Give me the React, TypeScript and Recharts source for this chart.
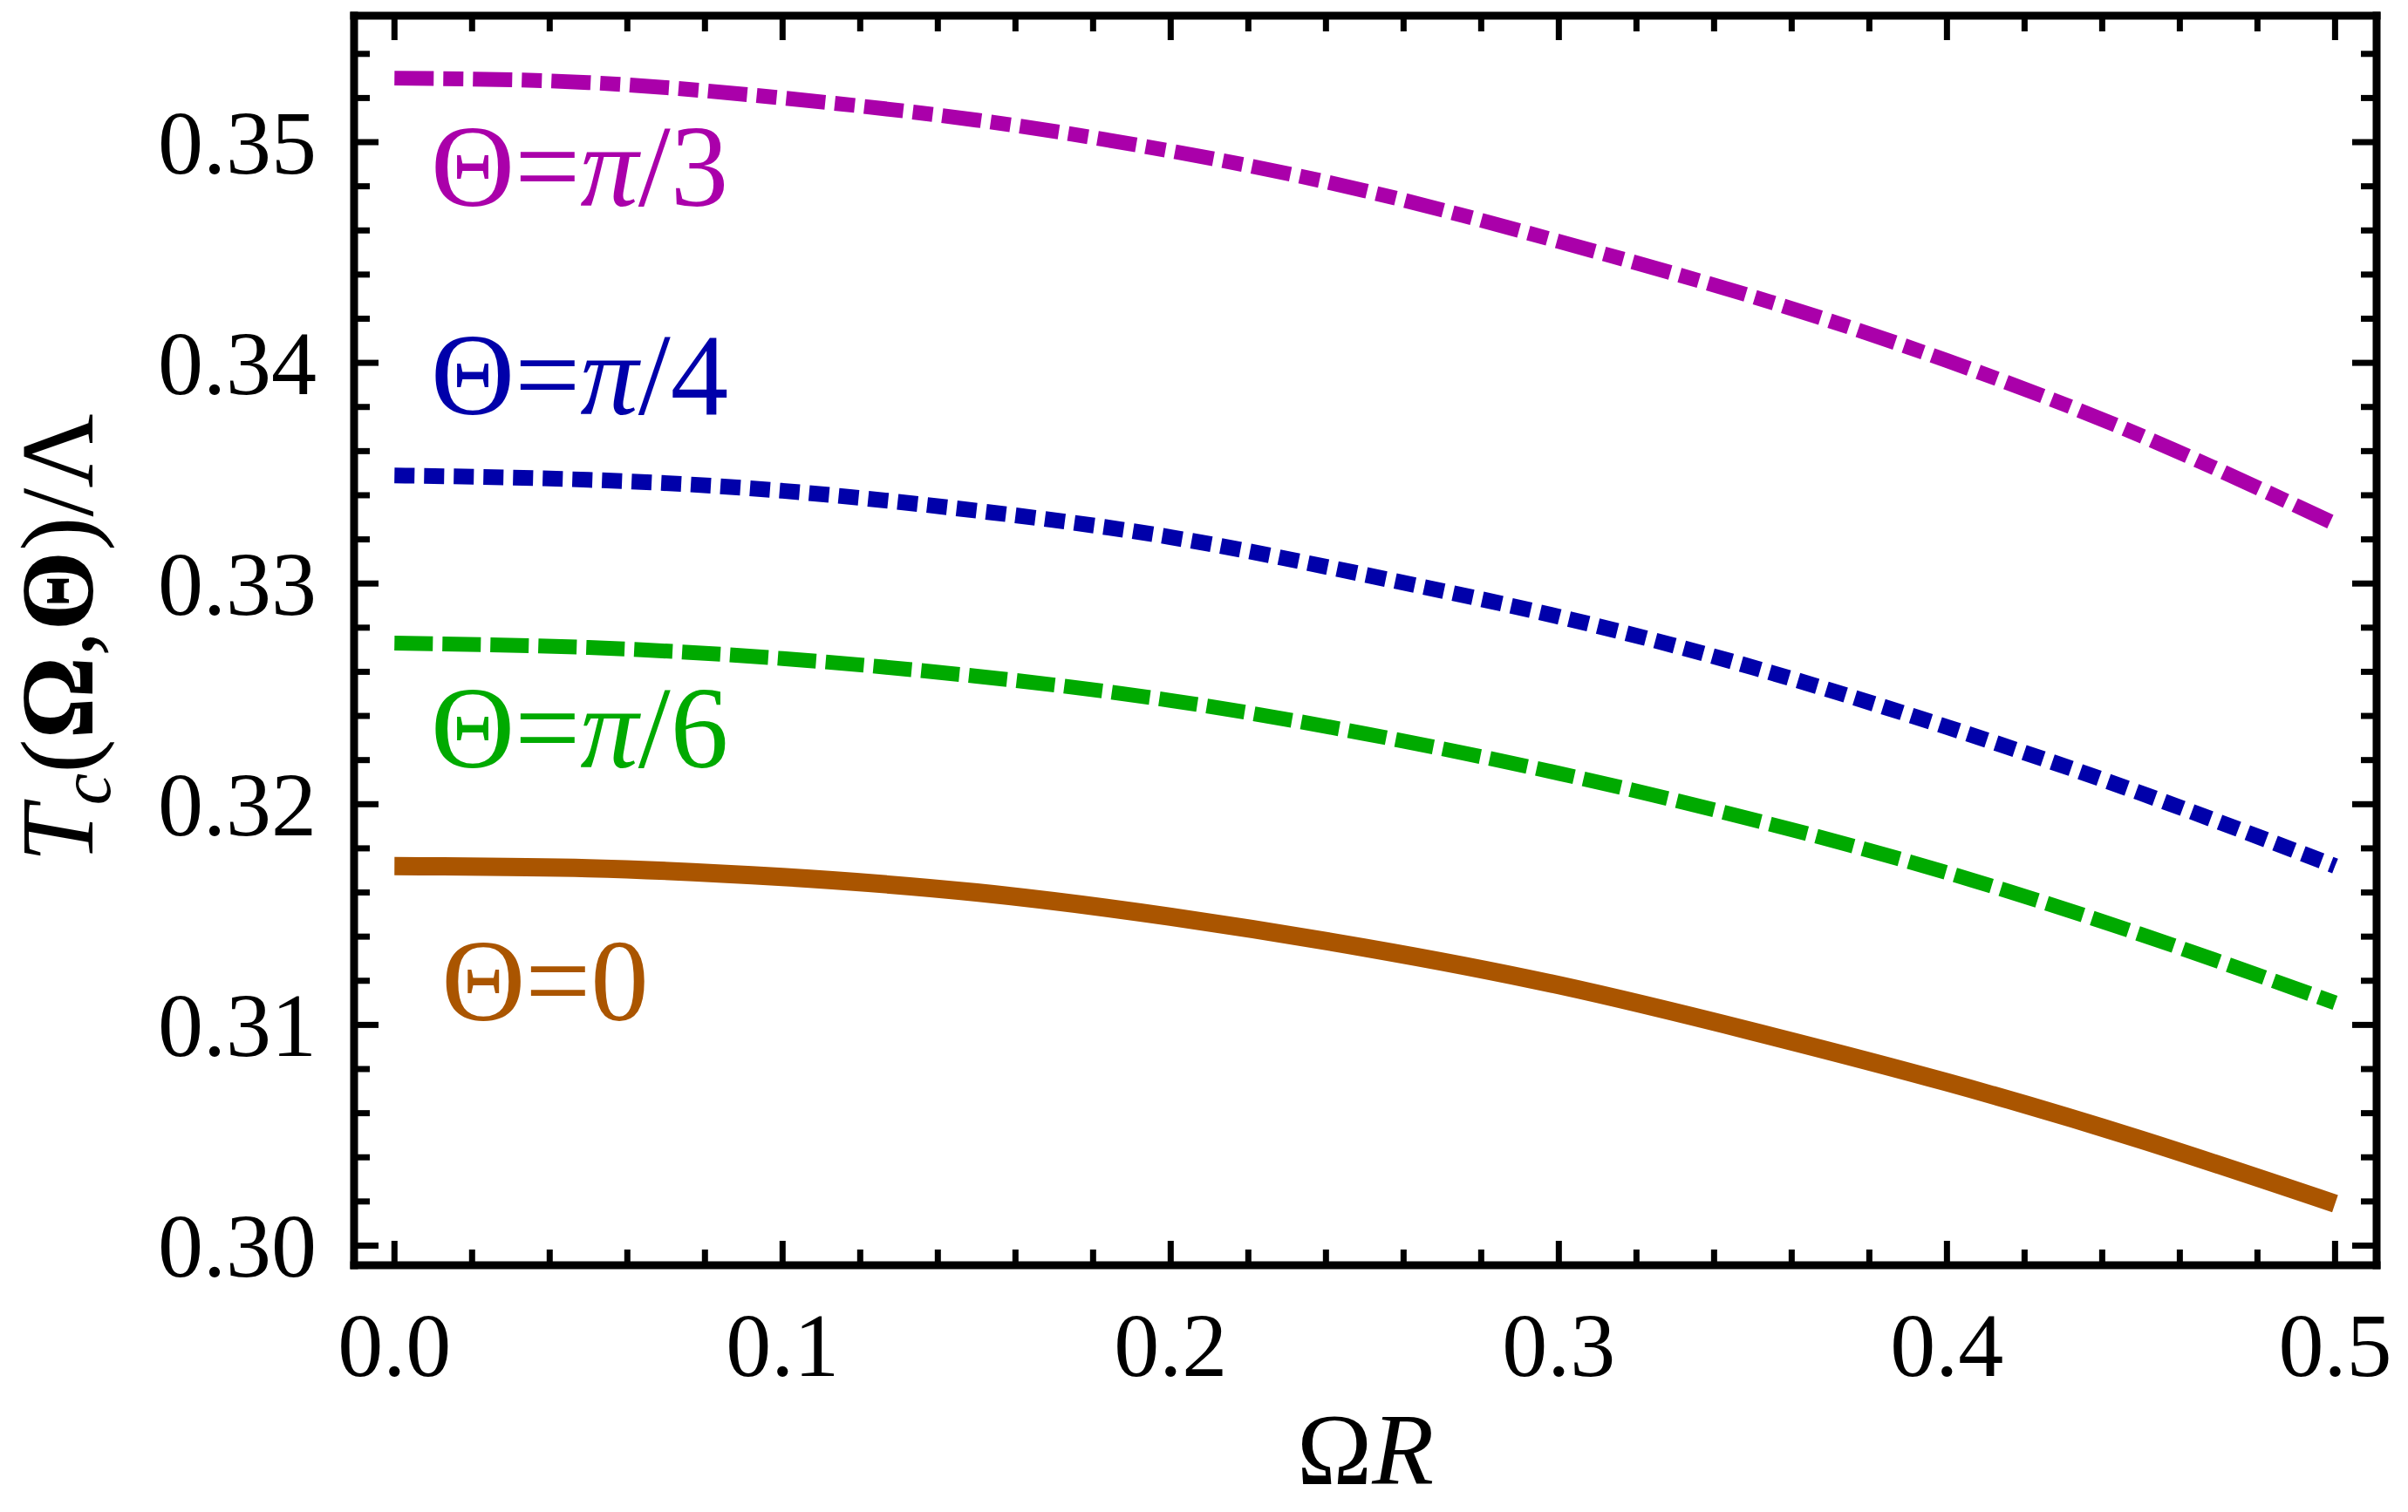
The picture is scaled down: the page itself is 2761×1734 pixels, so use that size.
import { LineChart, Line, XAxis, YAxis, ReferenceDot } from "recharts";

const SERIF = "'Liberation Serif', 'Times New Roman', Times, serif";

// ΩR sample points and T_c/Λ
const omegaR = [0, 0.05, 0.1, 0.15, 0.2, 0.25, 0.3, 0.35, 0.4, 0.45, 0.5];
const tcTheta0 = [0.3172, 0.3171, 0.3167, 0.316, 0.3149, 0.3135, 0.3118, 0.3097, 0.3074, 0.3048, 0.3019];
const tcThetaPi6 = [0.3273, 0.3271, 0.3266, 0.3258, 0.3247, 0.3232, 0.3214, 0.3193, 0.3169, 0.3141, 0.311];
const tcThetaPi4 = [0.3349, 0.3347, 0.3342, 0.3333, 0.3321, 0.3304, 0.3285, 0.3262, 0.3235, 0.3205, 0.3172];
const tcThetaPi3 = [0.3529, 0.3527, 0.352, 0.351, 0.3496, 0.3478, 0.3455, 0.343, 0.3401, 0.3367, 0.3327];

const xMajorTicks = [0, 0.1, 0.2, 0.3, 0.4, 0.5];
const xMajorLabels = ["0.0", "0.1", "0.2", "0.3", "0.4", "0.5"];
const xMinorTicks = [
  0.02, 0.04, 0.06, 0.08, 0.12, 0.14, 0.16, 0.18, 0.22, 0.24, 0.26, 0.28,
  0.32, 0.34, 0.36, 0.38, 0.42, 0.44, 0.46, 0.48,
];
const yMajorTicks = [0.3, 0.31, 0.32, 0.33, 0.34, 0.35];
const yMajorLabels = ["0.30", "0.31", "0.32", "0.33", "0.34", "0.35"];
const yMinorTicks = [
  0.302, 0.304, 0.306, 0.308, 0.312, 0.314, 0.316, 0.318, 0.322, 0.324, 0.326, 0.328,
  0.332, 0.334, 0.336, 0.338, 0.342, 0.344, 0.346, 0.348, 0.352, 0.354,
];

const xDomain = [-0.0104, 0.5107];
const yDomain = [0.29911, 0.35573];

// curve labels, placed in data coordinates
const labelX = [0.0094, 0.0094, 0.0094, 0.0121];
const labelY = [0.34712, 0.33766, 0.32169, 0.31022];
const labelDenom = ["3", "4", "6", ""];
const labelColors = ["#AA00AA", "#0000AA", "#00AA00", "#AA5500"];

const data = omegaR.map((x, i) => ({
  x,
  t0: tcTheta0[i],
  t6: tcThetaPi6[i],
  t4: tcThetaPi4[i],
  t3: tcThetaPi3[i],
}));

const xTicks = [...xMajorTicks, ...xMinorTicks].sort((a, b) => a - b);
const yTicks = [...yMajorTicks, ...yMinorTicks].sort((a, b) => a - b);

const MAJOR_LEN = 28;
const MINOR_LEN = 18;
const TICK_W = 7;
const FRAME = { stroke: "#000", strokeWidth: 9, strokeLinecap: "square" as const };

function majorIndex(list: number[], v: number) {
  return list.findIndex((m) => Math.abs(m - v) < 1e-9);
}

function makeTick(side: "bottom" | "top" | "left" | "right") {
  return (props: any) => {
    const { x, y, payload } = props;
    const v = payload.value;
    const horiz = side === "bottom" || side === "top";
    const idx = majorIndex(horiz ? xMajorTicks : yMajorTicks, v);
    const len = idx >= 0 ? MAJOR_LEN : MINOR_LEN;
    let x2 = x;
    let y2 = y;
    if (side === "bottom") y2 = y - len;
    if (side === "top") y2 = y + len;
    if (side === "left") x2 = x + len;
    if (side === "right") x2 = x - len;
    return (
      <g>
        <line x1={x} y1={y} x2={x2} y2={y2} stroke="#000" strokeWidth={TICK_W} />
        {idx >= 0 && side === "bottom" && (
          <text x={x} y={y + 127} textAnchor="middle" fontSize={104} fontFamily={SERIF} fill="#000">
            {xMajorLabels[idx]}
          </text>
        )}
        {idx >= 0 && side === "left" && (
          <text x={x - 43} y={y + 36} textAnchor="end" fontSize={104} fontFamily={SERIF} fill="#000">
            {yMajorLabels[idx]}
          </text>
        )}
      </g>
    );
  };
}

function XTitle(props: any) {
  const { viewBox } = props;
  return (
    <text x={viewBox.x + viewBox.width / 2} y={viewBox.y + 251} textAnchor="middle" fontSize={116} fontFamily={SERIF} fill="#000">
      Ω<tspan fontStyle="italic">R</tspan>
    </text>
  );
}

function YTitle(props: any) {
  const { viewBox } = props;
  const cx = viewBox.x + 106;
  const cy = viewBox.y + viewBox.height / 2 - 3;
  return (
    <text x={cx} y={cy} transform={`rotate(-90, ${cx}, ${cy})`} textAnchor="middle" fontSize={118} fontFamily={SERIF} fill="#000">
      <tspan fontStyle="italic">T</tspan>
      <tspan fontStyle="italic" fontSize={82} dy={20}>c</tspan>
      <tspan dy={-20}>(</tspan>
      <tspan fontWeight="bold">Ω</tspan>
      <tspan>,</tspan>
      <tspan fontWeight="bold">Θ</tspan>
      <tspan>)/Λ</tspan>
    </text>
  );
}

function curveLabel(i: number) {
  return (props: any) => (
    <text x={props.cx} y={props.cy} fontSize={133} fontFamily={SERIF} fill={labelColors[i]}>
      Θ=
      {labelDenom[i] ? (
        <>
          <tspan fontStyle="italic">π</tspan>/{labelDenom[i]}
        </>
      ) : (
        "0"
      )}
    </text>
  );
}

export default function App() {
  return (
    <div style={{ position: "absolute", left: 0, top: 0, width: 2761, height: 1734, background: "#fff" }}>
      <LineChart width={2761} height={1734} data={data} margin={{ top: 0, right: 0, bottom: 0, left: 0 }}>
        <XAxis
          xAxisId="b"
          dataKey="x"
          type="number"
          domain={xDomain}
          allowDataOverflow
          ticks={xTicks}
          interval={0}
          height={283}
          tickSize={0}
          tickMargin={0}
          tickLine={false}
          axisLine={FRAME}
          tick={makeTick("bottom")}
          label={{ content: XTitle }}
        />
        <XAxis
          xAxisId="t"
          orientation="top"
          dataKey="x"
          type="number"
          domain={xDomain}
          allowDataOverflow
          ticks={xTicks}
          interval={0}
          height={18}
          tickSize={0}
          tickMargin={0}
          tickLine={false}
          axisLine={FRAME}
          tick={makeTick("top")}
        />
        <YAxis
          yAxisId="l"
          type="number"
          domain={yDomain}
          allowDataOverflow
          ticks={yTicks}
          interval={0}
          width={406}
          tickSize={0}
          tickMargin={0}
          tickLine={false}
          axisLine={FRAME}
          tick={makeTick("left")}
          label={{ content: YTitle }}
        />
        <YAxis
          yAxisId="r"
          orientation="right"
          type="number"
          domain={yDomain}
          allowDataOverflow
          ticks={yTicks}
          interval={0}
          width={36}
          tickSize={0}
          tickMargin={0}
          tickLine={false}
          axisLine={FRAME}
          tick={makeTick("right")}
        />
        <Line xAxisId="b" yAxisId="l" type="natural" dataKey="t0" stroke="#AA5500" strokeWidth={21} dot={false} isAnimationActive={false} />
        <Line xAxisId="b" yAxisId="l" type="natural" dataKey="t6" stroke="#00AA00" strokeWidth={17} strokeDasharray="44 11" dot={false} isAnimationActive={false} />
        <Line xAxisId="b" yAxisId="l" type="natural" dataKey="t4" stroke="#0000AA" strokeWidth={18} strokeDasharray="23 11" dot={false} isAnimationActive={false} />
        <Line xAxisId="b" yAxisId="l" type="natural" dataKey="t3" stroke="#AA00AA" strokeWidth={17} strokeDasharray="45 11 23 11" dot={false} isAnimationActive={false} />
        {labelX.map((lx, i) => (
          <ReferenceDot key={i} xAxisId="b" yAxisId="l" x={lx} y={labelY[i]} r={1} shape={curveLabel(i)} />
        ))}
      </LineChart>
    </div>
  );
}
